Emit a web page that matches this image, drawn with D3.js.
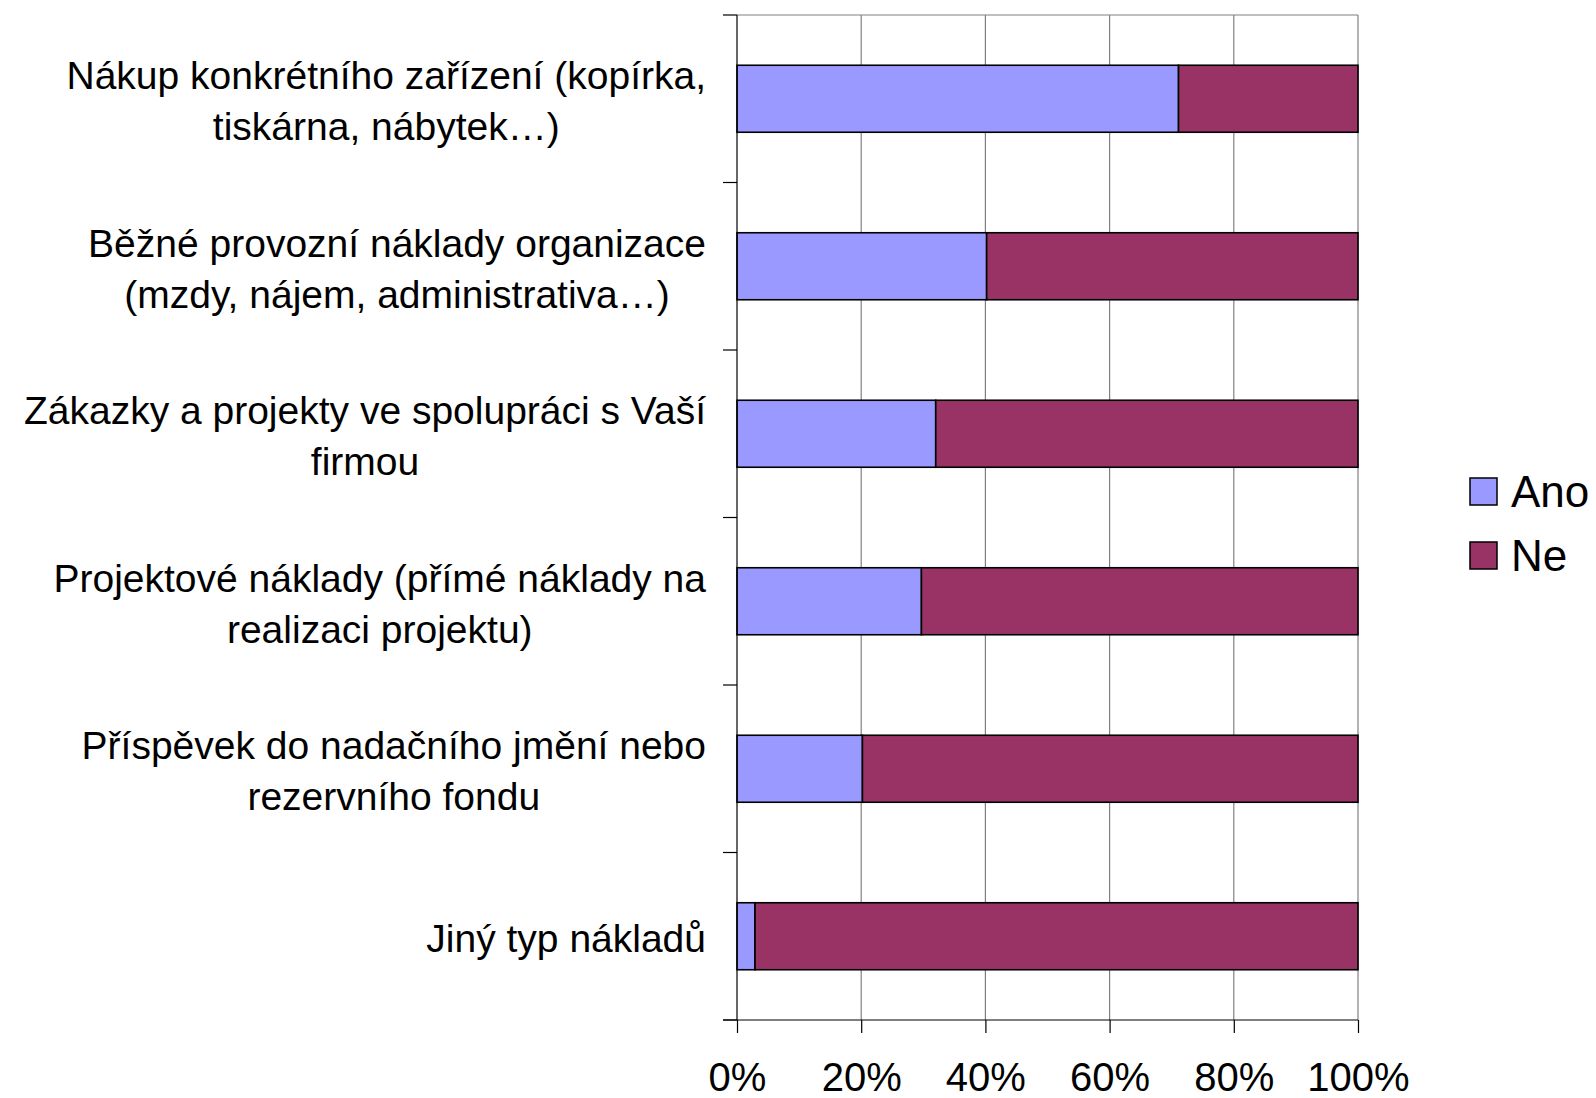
<!DOCTYPE html>
<html>
<head>
<meta charset="utf-8">
<script src="https://cdn.jsdelivr.net/npm/d3@7"></script>
<style>
  body { margin: 0; background: #fff; }
  text { font-family: "Liberation Sans", Arial, sans-serif; fill: #000; }
</style>
</head>
<body>
<div id="chart"></div>
<script>
// chart data
var categories = [
  ["Nákup konkrétního zařízení (kopírka,", "tiskárna, nábytek…)"],
  ["Běžné provozní náklady organizace", "(mzdy, nájem, administrativa…)"],
  ["Zákazky a projekty ve spolupráci s Vaší", "firmou"],
  ["Projektové náklady (přímé náklady na", "realizaci projektu)"],
  ["Příspěvek do nadačního jmění nebo", "rezervního fondu"],
  ["Jiný typ nákladů"]
];
var ano = [71.1, 40.2, 32.0, 29.7, 20.2, 2.9];
var ne = ano.map(function (v) { return 100 - v; });
var seriesNames = ["Ano", "Ne"];
var seriesColors = ["#9999ff", "#993366"];
var xTicks = [0, 20, 40, 60, 80, 100];

// svg area
var svgWidth = 1596;
var svgHeight = 1098;
var margin = { top: 15, right: 238, bottom: 78, left: 737 };
var chartWidth = svgWidth - margin.left - margin.right;
var chartHeight = svgHeight - margin.top - margin.bottom;

var svg = d3.select("#chart")
  .append("svg")
  .attr("width", svgWidth)
  .attr("height", svgHeight);

var chartGroup = svg.append("g")
  .attr("transform", `translate(${margin.left}, ${margin.top})`);

// scales
var x = d3.scaleLinear().domain([0, 100]).range([0, chartWidth]);
var y = d3.scaleBand()
  .domain(d3.range(categories.length))
  .range([0, chartHeight])
  .paddingInner(0.6)
  .paddingOuter(0.3);

// gridlines
chartGroup.selectAll(".grid")
  .data(xTicks.slice(1))
  .enter()
  .append("line")
  .attr("x1", d => x(d)).attr("x2", d => x(d))
  .attr("y1", 0).attr("y2", chartHeight)
  .attr("stroke", "#808080")
  .attr("stroke-width", 1.2);

// top border
chartGroup.append("line")
  .attr("x1", 0).attr("x2", chartWidth)
  .attr("y1", 0).attr("y2", 0)
  .attr("stroke", "#808080")
  .attr("stroke-width", 1.2);

// stacked bars
var stackData = categories.map(function (c, i) {
  return { i: i, vals: [ano[i], ne[i]] };
});

stackData.forEach(function (d) {
  var start = 0;
  d.vals.forEach(function (v, k) {
    chartGroup.append("rect")
      .attr("x", x(start))
      .attr("y", y(d.i))
      .attr("width", x(start + v) - x(start))
      .attr("height", y.bandwidth())
      .attr("fill", seriesColors[k])
      .attr("stroke", "#000")
      .attr("stroke-width", 1.6);
    start += v;
  });
});

// y axis line + ticks at band boundaries
var step = y.step();
chartGroup.append("line")
  .attr("x1", 0).attr("x2", 0)
  .attr("y1", 0).attr("y2", chartHeight)
  .attr("stroke", "#000")
  .attr("stroke-width", 1.2);

chartGroup.selectAll(".ytick")
  .data(d3.range(categories.length + 1))
  .enter()
  .append("line")
  .attr("x1", -14).attr("x2", 0)
  .attr("y1", d => d * step).attr("y2", d => d * step)
  .attr("stroke", "#000")
  .attr("stroke-width", 1.2);

// x axis
var xAxis = d3.axisBottom(x)
  .tickValues(xTicks)
  .tickSize(13)
  .tickPadding(30)
  .tickFormat(d => d + "%");

var xg = chartGroup.append("g")
  .attr("transform", "translate(0," + chartHeight + ")")
  .call(xAxis);
xg.select(".domain").remove();
xg.selectAll(".tick line").attr("stroke", "#000").attr("stroke-width", 1.2);
xg.selectAll(".tick text")
  .style("font-size", "40px")
  .style("font-family", "Liberation Sans, Arial, sans-serif")
  .attr("fill", "#000");

chartGroup.append("line")
  .attr("x1", -14).attr("x2", chartWidth)
  .attr("y1", chartHeight).attr("y2", chartHeight)
  .attr("stroke", "#000")
  .attr("stroke-width", 1.2);

// category labels: lines centred within a right-aligned block
var labelRight = 706 - margin.left;
var lineGap = 51;
categories.forEach(function (lines, i) {
  var g = chartGroup.append("g");
  var cy = y(i) + y.bandwidth() / 2;
  var texts = lines.map(function (t, j) {
    return g.append("text")
      .attr("text-anchor", "middle")
      .attr("y", cy + (j - (lines.length - 1) / 2) * lineGap + 16)
      .style("font-size", "39px")
      .text(t);
  });
  var maxW = d3.max(texts, t => t.node().getComputedTextLength());
  texts.forEach(t => t.attr("x", labelRight - maxW / 2));
});

// legend
var legend = svg.append("g").attr("transform", "translate(1470, 478)");
seriesNames.forEach(function (name, k) {
  legend.append("rect")
    .attr("x", 0).attr("y", k * 64)
    .attr("width", 27).attr("height", 27)
    .attr("fill", seriesColors[k])
    .attr("stroke", "#000")
    .attr("stroke-width", 1.5);
  legend.append("text")
    .attr("x", 41).attr("y", k * 64 + 29)
    .style("font-size", "44px")
    .text(name);
});
</script>
</body>
</html>
